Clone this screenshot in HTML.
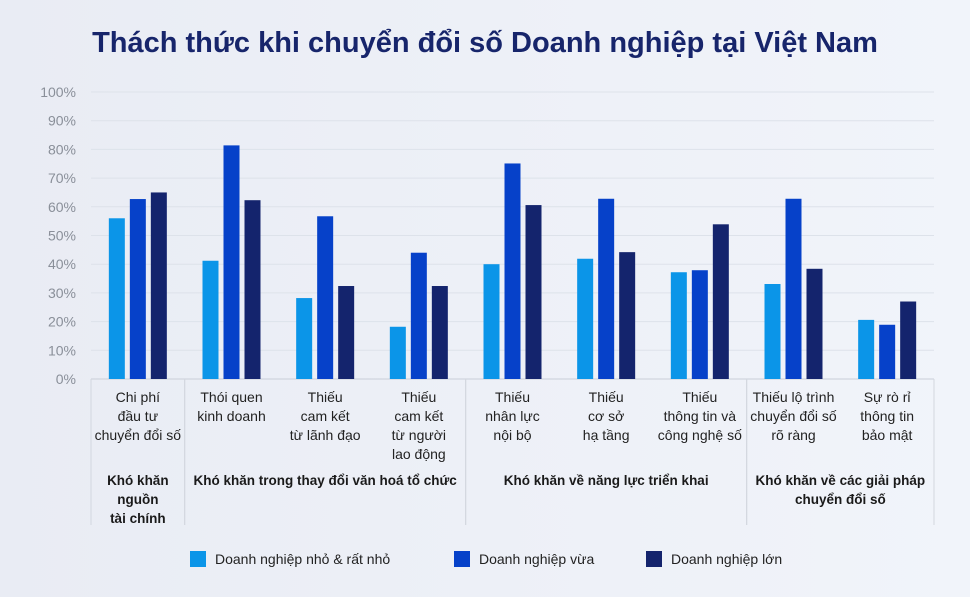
<!DOCTYPE html>
<html><head><meta charset="utf-8"><style>
body{margin:0;width:970px;height:597px;overflow:hidden;background:linear-gradient(90deg,#e9ecf4,#f1f4fa);font-family:"Liberation Sans","DejaVu Sans",sans-serif}
svg{display:block}
</style></head><body>
<svg id="chart" width="970" height="597" xmlns="http://www.w3.org/2000/svg">
<text x="485" y="52" text-anchor="middle" font-size="29" font-weight="bold" fill="#17256b">Thách thức khi chuyển đổi số Doanh nghiệp tại Việt Nam</text>
<g id="grid"></g><g id="bars"></g><g id="xlab"></g><g id="legend"></g>
</svg>
<script>
const categories=[["Chi phí","đầu tư","chuyển đổi số"],["Thói quen","kinh doanh"],["Thiếu","cam kết","từ lãnh đạo"],["Thiếu","cam kết","từ người","lao động"],["Thiếu","nhân lực","nội bộ"],["Thiếu","cơ sở","hạ tầng"],["Thiếu","thông tin và","công nghệ số"],["Thiếu lộ trình","chuyển đổi số","rõ ràng"],["Sự rò rỉ","thông tin","bảo mật"]];
const small=[56,41.2,28.2,18.2,40,41.9,37.2,33.1,20.6];
const medium=[62.7,81.4,56.7,44,75.1,62.8,37.9,62.8,18.9];
const large=[65,62.3,32.4,32.4,60.6,44.2,53.9,38.4,27];
const seriesNames=["Doanh nghiệp nhỏ & rất nhỏ","Doanh nghiệp vừa","Doanh nghiệp lớn"];
const groups=[{label:["Khó khăn","nguồn","tài chính"],from:0,to:1},{label:["Khó khăn trong thay đổi văn hoá tổ chức"],from:1,to:4},{label:["Khó khăn về năng lực triển khai"],from:4,to:7},{label:["Khó khăn về các giải pháp","chuyển đổi số"],from:7,to:9}];
const yTicks=[0,10,20,30,40,50,60,70,80,90,100];
const colors=["#0b95e8","#0641c9","#14246d"];
const NS="http://www.w3.org/2000/svg";
const x0=91,x1=934,y0=379,y100=92;
const bw=(x1-x0)/categories.length;
const y=v=>y0-(v/100)*(y0-y100);
const xc=i=>x0+bw*(i+0.5);
function mk(tag,attrs,parent,text){const e=document.createElementNS(NS,tag);for(const k in attrs)e.setAttribute(k,attrs[k]);if(text!==undefined)e.textContent=text;parent.appendChild(e);return e;}
const grid=document.getElementById('grid');
yTicks.forEach(t=>{
 const l=mk('line',{x1:x0,x2:x1,y1:y(t),y2:y(t),stroke:t===0?'#c9ced8':'#dde2ea','stroke-width':1},grid);
 
 
 const tx=mk('text',{x:76,y:y(t)+5,'text-anchor':'end','font-size':14,fill:'#8a8f99'},grid,t+'%');
 
 
});
const bars=document.getElementById('bars');
const series=[small,medium,large];
categories.forEach((c,i)=>{
 series.forEach((s,k)=>{
  const r=mk('rect',{x:xc(i)-29+k*21,y:y(s[i]),width:16,height:y0-y(s[i]),fill:colors[k]},bars);
  
  
 });
});
const xl=document.getElementById('xlab');
groups.forEach(g=>{
 [g.from,g.to].forEach(b=>{
  const l=mk('line',{x1:x0+bw*b,x2:x0+bw*b,y1:y0,y2:525,stroke:'#d3d7df','stroke-width':1},xl);
  
  
 });
 const cx=x0+bw*(g.from+g.to)/2;
 g.label.forEach((ln,j)=>{
  const t=mk('text',{x:cx,y:485+j*19,'text-anchor':'middle','font-size':13.5,'font-weight':'bold',fill:'#1a1a1a'},xl,ln);
  
  
 });
});
categories.forEach((c,i)=>{
 c.forEach((ln,j)=>{
  const t=mk('text',{x:xc(i),y:402+j*19,'text-anchor':'middle','font-size':14,fill:'#222'},xl,ln);
  
  
 });
});
const lg=document.getElementById('legend');
const lx=[190,454,646];
seriesNames.forEach((n,k)=>{
 const r=mk('rect',{x:lx[k],y:551,width:16,height:16,fill:colors[k]},lg);
 
 
 const t=mk('text',{x:lx[k]+25,y:564,'font-size':14,fill:'#222'},lg,n);
 
 
});
</script>
</body></html>
